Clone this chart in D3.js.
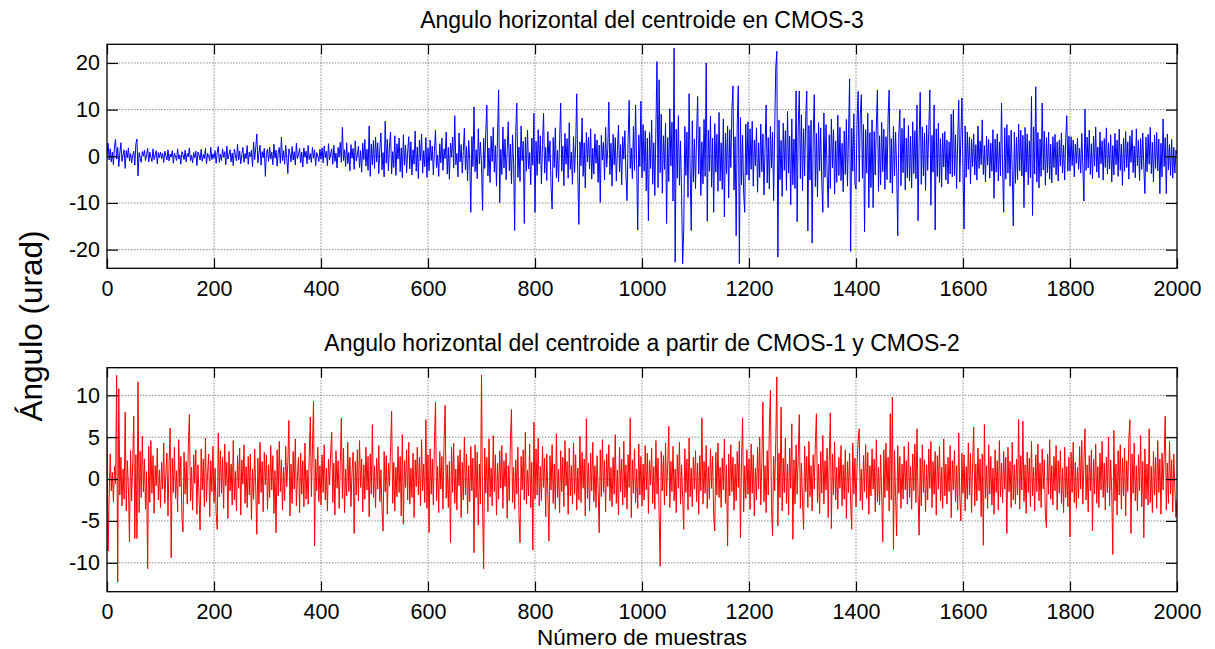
<!DOCTYPE html>
<html><head><meta charset="utf-8">
<script src="https://cdn.jsdelivr.net/npm/d3@7"></script>
<style>
body{margin:0;background:#fff}
svg{display:block}
text{font-family:"Liberation Sans",Arial,Helvetica,sans-serif;fill:#000}
</style>
</head><body>
<svg id="chart" width="1215" height="649"></svg>
<script>
// ---------------- data ----------------
const sampleStep = 2; // one stored value every 2 samples
const xTicks = [0,200,400,600,800,1000,1200,1400,1600,1800,2000];
const topYTicks = [-20,-10,0,10,20];
const botYTicks = [-10,-5,0,5,10];
const topTitle = "Angulo horizontal del centroide en CMOS-3";
const botTitle = "Angulo horizontal del centroide a partir de CMOS-1 y CMOS-2";
const xLabel = "Número de muestras";
const yLabel = "Ángulo (urad)";

const cmos3 = [
0.2,2.8,-0.8,1.6,-1.2,0.9,-1.8,2.1,3.6,-0.6, 1.9,-2.2,0.7,2.9,-1.1,0.3,1.4,-2.6,1.2,-0.3, 1.8,-1.0,0.6,-1.4,0.2,1.1,-1.9,2.7,3.7,-4.2, 0.8,-0.4,-1.3,1.0,0.1,1.3,-0.9,0.4,1.7,-1.2, 0.9,-0.2,-1.1,1.6,-0.7,0.3,1.2,-1.6,0.8,-0.3,
0.9,-0.5,0.6,-1.3,1.1,0.2,-0.8,1.4,-1.0,0.5, -0.2,1.2,-1.5,0.7,0.1,-0.9,1.6,-0.6,0.3,-1.7, 1.0,0.4,-0.7,1.3,-1.2,0.6,-0.1,1.8,-0.9,0.2, -1.4,0.8,-0.3,1.1,-2.0,0.9,0.3,-0.8,1.5,-1.1, 0.4,-0.5,1.7,-1.6,0.6,0.1,-1.0,1.9,-0.7,0.5,
-0.4,1.2,-1.5,0.8,2.1,-1.3,0.5,-0.9,1.6,-0.2, 1.0,-1.8,2.2,-0.6,0.3,1.4,-1.2,0.7,-2.0,1.5, 0.2,-1.0,2.6,-0.8,1.1,-1.6,0.4,1.9,-1.3,0.6, -0.5,2.3,-1.7,0.9,-0.1,1.3,-2.2,3.1,-0.7,1.8, 4.8,-1.4,0.6,2.4,-1.9,1.0,-0.3,1.7,-4.3,0.8,
1.5,-1.1,2.0,-0.6,0.9,-1.8,2.6,-0.4,1.3,-2.1, 0.7,1.9,-1.5,4.1,-0.9,1.2,-1.7,2.4,-0.3,-3.7, 1.6,0.5,-1.2,2.1,-0.8,1.0,-1.9,2.8,-0.5,0.4, 1.7,-1.4,0.9,-2.3,1.8,-0.2,1.1,-1.6,2.3,-0.7, 0.6,-1.3,1.9,-0.4,1.4,-2.0,0.8,0.2,-1.1,1.5,
-0.6,1.8,-1.4,2.2,-0.3,1.1,-2.0,2.7,-0.8,0.5, 1.6,-1.7,2.4,-1.1,0.7,-2.5,1.9,-0.2,3.0,-1.3, 6.2,-0.9,1.4,-2.2,2.9,-1.6,0.8,-3.1,2.5,-0.4, 1.7,-2.8,3.3,-1.0,0.3,2.2,-2.4,1.2,-3.4,2.8, -0.7,3.6,-2.1,1.5,-3.0,6.5,-4.3,2.6,-1.8,3.4,
-2.6,4.1,-1.2,2.9,-3.7,1.6,5.0,-2.9,0.8,-4.4, 7.5,-1.5,3.6,-3.1,2.2,5.2,-3.8,1.0,-2.4,4.4, -4.1,2.7,-0.6,3.9,-3.3,1.8,-4.6,4.6,-1.9,2.4, -3.5,0.9,4.2,-2.7,3.1,-4.0,1.4,-1.7,5.4,-3.2, 2.0,-4.8,3.5,-0.9,4.8,-3.6,1.2,-2.2,4.0,-4.5,
1.8,-3.1,3.5,-0.9,2.2,-4.0,1.1,5.6,-2.4,0.3, -4.3,2.7,-1.4,3.9,-3.0,1.6,-0.5,5.2,-3.8,1.9, -4.9,2.8,-0.2,4.1,-2.5,8.7,-1.8,0.6,-4.4,5.0, -1.2,2.5,-3.6,1.0,6.0,-2.9,2.1,-5.2,3.4,-0.8, -12.0,4.2,-2.2,10.6,-3.3,1.4,-4.8,5.9,-1.6,3.0,
-2.0,-11.6,3.9,-2.6,5.1,11.0,-4.2,1.8,-5.6,4.3, -1.1,6.2,-3.4,2.3,-6.4,4.8,14.2,-9.9,1.5,-3.9, 6.3,-2.5,3.7,-5.0,1.2,7.4,-3.1,2.6,-5.9,4.6, -1.4,-15.9,5.3,11.4,-4.5,2.0,-5.4,6.5,-0.9,3.2, -14.4,4.1,-3.2,5.6,-2.7,0.8,-6.1,3.9,-1.9,9.2,
-12.0,3.2,-4.1,5.7,-1.6,4.4,-5.9,2.5,9.2,-3.6, 1.9,-5.2,5.3,-1.1,3.3,-6.6,-11.3,4.0,-2.4,6.1, -4.6,1.3,-5.5,3.6,11.4,-3.2,2.2,-6.3,4.9,-1.7, 3.8,-4.7,7.2,-2.8,0.9,-6.0,4.2,-3.5,2.4,13.4, -3.9,-14.6,3.1,-2.0,8.2,-4.3,2.9,-6.8,5.1,-1.2,
4.1,-2.7,5.9,-4.9,1.7,-3.8,4.8,-1.5,3.5,-5.6, 2.4,-9.9,4.5,-0.8,3.0,-5.1,6.2,-2.3,1.4,11.6, -3.9,2.8,-6.4,4.7,-1.8,4.0,-5.3,1.2,6.7,-3.3, 2.5,-6.1,4.2,-0.6,5.5,-4.0,-9.5,3.2,12.0,-2.6, 1.8,-4.8,6.4,-3.0,11.0,-1.5,-15.8,4.6,-2.2,11.8,
-4.6,6.8,-3.2,5.5,-7.4,3.9,-13.8,5.1,-2.6,7.8, -6.0,2.9,-8.4,6.1,20.3,-6.7,16.4,-3.5,9.0,-7.9, 4.4,-2.8,7.1,-14.4,4.0,-5.4,10.2,-2.1,7.3,-9.6, 23.2,-22.7,5.8,-4.7,8.7,-6.2,3.3,-8.0,-23.0,-15.9, 6.4,-4.1,5.2,-8.8,13.4,-2.9,-15.9,7.6,-5.5,3.7,
-6.9,4.5,12.8,-3.8,6.3,-8.4,3.1,-5.9,7.9,-4.3, 20.0,-13.9,5.6,-3.2,8.6,-6.6,3.9,-12.0,7.0,-3.4, 4.7,-7.5,9.4,-5.3,2.9,-7.1,8.0,-13.0,5.0,-3.7, 6.5,-8.9,5.7,-2.4,9.7,15.1,-7.2,4.2,-17.0,6.8, 15.1,-23.0,8.3,-6.1,4.5,-7.8,-12.0,6.9,-4.0,7.4,
-5.1,5.9,-2.8,7.5,-6.4,3.5,-2.0,6.1,-7.7,2.9, -4.5,6.9,-3.3,4.8,-8.3,2.1,11.0,-5.7,4.0,-7.0, 6.4,-2.5,5.2,-9.5,5.3,19.0,22.5,-21.6,7.8,-5.0, 3.4,-8.6,7.1,-3.0,5.5,-7.3,9.6,-3.6,4.3,-10.4, 8.0,-6.1,3.7,-6.9,14.0,-14.0,6.3,14.0,-4.8,8.9,
-7.4,5.9,-4.2,8.5,14.0,-16.0,6.6,-5.1,7.7,-18.6, 4.1,13.2,-6.5,4.9,-8.7,7.2,-3.1,6.1,-5.4,-12.0, 9.3,-4.5,6.8,-3.7,-11.0,4.6,-6.9,8.0,-2.5,5.7, -8.1,3.3,-5.6,8.8,-4.1,6.2,-5.2,2.8,-7.6,5.4, -3.9,7.9,-6.4,4.7,16.6,-20.4,6.0,-3.2,9.1,-5.9,
-7.0,7.6,13.9,-5.5,8.9,13.2,-4.7,6.8,-16.2,5.7, -3.6,9.2,-11.0,5.1,-6.7,7.8,-11.0,5.3,-4.0,6.5, 14.2,-7.5,4.4,-6.1,7.3,-3.3,5.8,-7.1,4.2,-5.0, 8.4,14.2,-5.7,3.8,-7.9,6.4,-4.2,5.2,-2.7,-17.0, 4.8,10.0,-6.3,6.0,-3.5,8.2,-7.2,3.9,-4.6,6.6,
-5.3,4.3,-6.8,7.4,-3.7,5.5,-4.8,11.0,-13.8,3.4, 13.7,-6.0,6.3,-4.2,5.0,-7.3,6.7,-3.0,5.6,14.2, -10.5,4.5,-3.4,11.0,-15.8,5.9,-4.3,7.1,-5.6,3.8, -6.6,4.9,-2.3,5.3,-5.1,3.5,-5.9,3.1,-3.8,9.0, -4.4,10.0,-4.1,4.6,-6.9,2.8,12.0,-5.5,4.1,12.5,
-3.7,-15.6,6.5,-4.5,5.2,-2.8,4.1,-5.9,3.7,-2.2, 4.8,-4.0,2.5,-5.1,6.5,-2.6,3.3,-1.8,7.8,-3.9, 2.3,-5.5,4.3,-1.9,3.6,-4.7,2.8,-3.2,5.7,-9.0, 3.7,-3.4,4.8,-5.3,3.1,-4.2,11.4,-2.5,-12.0,6.1, -4.9,6.8,-3.6,4.5,-6.4,5.6,-3.0,-14.9,5.2,-5.8,
4.1,-5.0,6.9,-3.1,5.6,-4.2,4.5,-11.0,6.2,-3.4, 4.8,-6.1,3.3,-4.6,12.8,-12.7,6.3,-3.8,14.9,-5.5, 5.1,-6.8,3.7,-4.3,11.4,-2.9,5.4,-6.2,4.0,-3.5, 5.2,-4.9,2.6,-5.7,4.2,-2.4,4.7,-4.0,3.1,-5.3, 3.5,-2.1,5.0,-3.6,2.4,-5.1,3.9,8.7,-3.2,4.3,
-3.1,4.2,-2.0,3.5,-4.4,2.6,-1.5,3.9,-2.8,1.7, -3.6,4.9,-2.3,-9.6,10.1,-3.0,4.1,-2.5,5.6,-3.9, 2.7,-4.8,4.3,-2.1,6.3,-3.4,2.0,-4.6,5.2,-1.6, 3.3,-5.1,3.8,-2.4,6.1,-3.8,2.9,-2.7,4.6,-5.5, 2.3,-4.0,4.9,-1.8,3.5,-4.3,5.8,-3.0,2.6,-6.2,
3.9,-3.2,5.3,-2.4,3.1,-4.9,4.4,-1.3,5.6,-3.5, 2.2,-4.6,5.9,-2.0,3.4,-5.2,3.8,-2.8,5.0,-2.3, -8.0,4.1,-3.3,4.7,-1.7,6.2,-3.7,3.0,-5.5,4.5, -2.6,5.1,-3.1,3.7,-8.0,2.8,-4.4,8.0,-2.2,4.0, -8.0,4.8,-2.9,2.5,-4.1,3.6,-4.7,1.9,-3.6,1.3,
0.3
];

const cmos12 = [
5.0,-8.6,-2.1,3.0,-1.4,0.8,-2.7,1.5,-0.6,12.4, -12.3,10.8,-1.9,2.6,-3.2,1.2,-2.4,8.0,-3.8,2.2, -1.0,-7.5,3.4,-2.6,1.8,7.5,-7.1,2.9,-7.1,11.6, -4.0,3.3,-2.2,5.1,-1.5,2.4,-3.6,0.9,-10.7,3.9, -2.8,4.6,-1.7,2.8,-4.1,1.6,-0.8,3.7,-2.5,1.1,
-3.4,2.0,-1.2,4.3,-2.9,0.6,3.1,-4.4,1.9,6.1, -9.4,2.5,-1.6,3.8,-2.3,1.0,-3.9,4.7,-0.9,2.7, -4.6,-6.3,3.2,-1.8,2.1,-3.0,4.0,7.7,-2.6,1.4, -3.7,2.9,-0.5,3.5,-4.2,1.7,-2.0,-6.1,3.6,-1.3, 2.4,-3.3,4.9,-2.7,0.7,3.0,-4.5,2.2,-1.5,3.9,
-2.8,1.3,-4.0,-6.0,5.5,-2.1,3.4,-1.7,2.6,-3.5, 4.2,-0.8,2.0,-4.7,3.3,-1.4,1.8,-3.1,4.6,-2.5, 0.9,-3.8,2.8,-1.1,3.7,-4.3,2.3,-0.6,4.1,-2.9, 1.5,-3.4,2.7,-1.9,3.0,-4.8,1.2,-2.4,3.6,-1.0, -6.6,2.5,-3.0,4.4,-1.6,2.1,-3.9,3.2,-0.7,2.9,
-3.6,1.7,-2.2,4.0,-1.3,2.8,-4.1,1.0,-6.4,3.5, -2.0,4.5,-1.5,2.3,-3.7,1.4,-2.6,3.9,-0.9,2.0, 7.0,-4.4,1.8,-2.9,3.3,-1.2,4.8,-3.2,0.5,2.6, -4.0,3.1,-1.8,2.2,-3.3,4.3,-2.4,1.1,-3.0,2.7, 7.4,-2.1,3.6,9.3,-8.0,2.4,-1.4,3.8,-2.7,1.6,
-3.1,2.9,-1.6,4.1,-2.5,1.3,-3.8,2.4,-0.7,3.0, 5.6,-2.8,1.9,-4.3,3.4,-1.1,2.2,-3.5,1.5,7.3, -2.3,3.7,-4.0,1.2,-2.0,4.4,-1.5,2.6,-3.3,0.8, 3.2,-6.5,2.1,-1.9,3.5,-2.6,4.6,-1.0,2.4,-3.9, 1.7,-2.4,3.8,-1.3,2.7,-4.5,3.0,-1.8,6.5,-2.2,
1.6,-3.4,2.5,-1.2,4.0,-2.7,1.1,-3.6,-6.2,3.3, -1.5,2.8,-4.2,1.9,-0.8,3.6,8.1,-2.9,2.0,-3.8, 1.4,-2.1,3.9,-1.6,2.7,-4.4,5.3,-5.4,2.2,-1.0, 3.5,-2.5,4.4,-3.0,1.3,-2.2,3.1,-4.6,2.3,-0.9, 3.8,-1.9,2.6,-3.2,4.7,-1.4,1.8,-2.8,7.1,-3.5,
2.9,-6.4,3.6,-1.8,2.4,-3.1,4.2,9.2,-2.6,1.5, -4.0,3.3,-1.2,2.7,-3.6,4.5,8.8,-2.3,1.7,-3.4, 2.1,-7.6,3.8,-1.6,4.3,-2.9,1.2,-3.7,2.8,-0.8, 3.5,-4.6,2.0,-2.5,5.0,-1.9,3.0,-4.1,1.6,-2.7, 3.9,-1.4,2.5,-8.8,4.1,-2.2,3.2,-5.5,1.8,-3.0,
12.4,-3.3,-10.7,3.7,-1.7,2.6,-3.9,4.8,-2.1,1.3, -3.2,5.2,-1.5,2.9,-4.3,1.9,-2.4,3.4,-1.1,4.0, -3.5,2.2,-0.9,3.1,-4.7,1.6,-2.6,4.4,8.3,-2.8, 1.4,-3.6,2.3,-1.8,3.8,-4.1,-7.6,2.7,-1.3,3.5, -2.5,5.6,-3.0,1.1,-2.0,4.2,-3.4,2.0,-8.5,6.8,
-2.4,3.6,-1.9,4.9,-3.2,1.5,-2.6,3.9,-1.0,2.5, -4.5,3.0,-1.7,-7.4,2.8,-1.3,4.1,-2.9,1.8,-3.6, 5.4,-2.2,1.2,-4.0,3.4,-1.5,2.6,-3.3,4.6,-0.8, 2.1,-4.2,3.7,-2.0,1.6,-3.0,4.3,-1.8,2.9,-3.7, 1.3,-2.5,5.1,-2.8,3.2,-1.1,2.4,-4.4,7.2,-2.3,
1.9,-3.8,3.1,-1.4,4.4,-2.7,1.6,-3.4,2.8,-1.2, -6.4,3.5,-2.1,4.7,-1.6,2.2,-3.9,3.0,-0.9,4.1, -2.6,1.4,-3.3,2.6,-1.8,5.3,-2.9,1.1,-4.3,3.8, -1.5,2.4,-3.1,4.5,-2.2,1.7,-3.6,2.9,-1.0,7.3, -4.6,2.3,-1.7,3.6,-2.8,1.2,-3.5,4.2,-1.9,2.7,
-3.2,1.8,-2.5,4.0,-1.3,3.1,-4.1,2.2,-0.7,3.7, -2.9,1.5,-3.6,4.6,-1.8,2.5,-4.4,-10.4,3.3,-1.4, 2.8,-3.1,4.3,-2.0,1.6,6.3,-3.4,2.1,-1.5,3.9, -2.6,1.2,-4.0,2.9,-1.1,4.4,-3.0,1.7,-2.3,-6.0, 3.6,-1.6,2.4,-3.7,4.9,-2.1,1.3,-3.3,2.6,-1.2,
3.4,-2.7,1.9,-4.2,2.8,-1.4,7.3,-3.0,2.1,-1.7, 4.0,-3.5,1.5,-2.4,3.6,-1.1,2.7,-4.5,-6.2,3.2, -1.9,4.3,-2.2,1.4,-3.4,2.5,-1.3,4.8,-2.9,1.7, -8.0,3.0,-2.0,4.1,-1.5,2.6,-3.7,1.8,-2.6,3.3, -1.0,4.5,-7.0,2.2,7.3,-3.9,1.6,-2.3,3.5,-1.8,
2.4,-3.6,4.2,-1.7,2.9,-4.4,1.3,-2.5,3.8,-1.2, 5.0,-3.1,2.0,9.2,-2.7,1.6,-4.0,3.4,-1.9,6.1, 10.6,-3.3,-6.8,2.7,-1.4,4.6,12.2,-5.6,3.1,-2.2, 8.6,-3.8,2.5,-1.6,4.9,-2.9,1.8,-4.3,3.7,-1.1, 6.6,-7.2,2.3,-3.0,4.1,-1.8,2.6,7.7,-3.5,1.9,
-2.6,-6.0,3.9,-1.5,2.7,-3.4,4.5,-2.1,1.6,-3.8, 2.9,-1.2,4.2,7.8,-2.8,1.8,-4.1,3.3,-1.7,5.2, -3.0,2.2,-1.3,3.7,-4.6,2.4,7.9,-5.9,3.0,-1.9, 4.4,-2.5,1.4,-3.6,2.6,-1.1,4.0,-3.2,1.7,-2.4, 3.5,-4.7,2.1,-1.6,3.1,-2.9,-6.0,4.3,-1.8,2.5,
-3.3,1.9,4.6,6.0,-2.6,1.2,-3.7,2.8,-1.5,4.1, -2.3,3.2,-4.2,1.6,-2.0,3.6,-1.2,2.4,-3.9,4.7, -2.7,1.4,-3.1,2.9,-1.8,-7.5,3.5,-2.2,4.3,-1.4, 2.6,-3.8,7.8,-2.5,9.8,-8.4,3.4,-2.1,-6.8,4.0, -1.7,2.7,-3.5,1.8,-2.4,3.9,-1.3,2.2,-3.0,4.4,
-2.2,1.5,-3.6,3.0,-1.4,4.2,-2.8,6.0,-1.9,-6.7, 2.5,-3.2,4.1,-1.6,2.3,-3.9,1.7,-2.5,3.6,-1.1, 4.5,-3.4,2.1,-1.8,3.3,-4.3,2.8,-1.2,3.9,-2.6, 1.4,-3.5,4.8,-2.0,1.8,-3.0,2.6,-1.5,4.0,-4.6, 2.2,-1.3,3.4,-2.7,1.6,-3.7,5.5,-2.1,-5.0,3.1,
-1.7,2.9,-3.8,1.5,-2.4,4.3,-1.9,3.1,-4.0,2.0, 6.2,-3.2,1.8,-2.6,3.7,-1.4,2.4,-4.5,3.0,-7.9, 6.5,-2.3,1.6,-3.5,4.1,-1.8,2.7,-3.1,1.3,-4.2, 3.5,-1.6,2.2,-3.7,4.6,-2.1,1.9,-2.8,3.3,-1.2, 2.6,-6.5,3.8,-1.5,2.1,-3.4,4.4,-2.5,1.7,-3.0,
2.4,-1.9,7.1,-3.6,2.8,-1.3,6.9,-2.7,1.7,-4.1, 3.2,-1.6,2.5,-3.3,4.5,-2.0,1.4,-3.8,2.9,-1.5, 4.2,-2.6,1.9,-3.4,3.6,-1.2,2.3,-4.4,-5.8,3.0, -1.8,4.7,-2.4,1.6,-3.1,2.7,-1.4,4.0,-3.7,2.2, -1.7,3.4,-2.9,1.3,-4.0,3.8,-2.2,1.5,-3.3,2.6,
-6.9,3.2,-1.6,4.4,-2.8,2.0,-3.5,1.4,-2.3,3.9, -1.2,4.6,-3.0,2.1,6.0,-2.5,1.7,-3.9,2.8,-1.4, 3.5,-6.2,2.4,-1.8,4.2,-2.9,1.5,-3.4,3.1,-1.3, 4.5,-2.2,1.9,-3.7,2.6,-1.6,5.0,-3.2,2.3,-1.5, -9.0,5.8,-2.6,1.8,-4.3,3.4,-1.9,4.1,-3.6,2.5,
-2.0,3.7,-4.4,2.2,-1.5,4.8,7.1,-6.5,3.0,-1.7, 4.3,-2.6,1.6,-3.8,2.9,-1.4,5.2,-3.3,2.1,-7.0, 3.6,-2.4,1.8,-3.1,6.0,-2.8,1.5,-4.0,3.3,-1.9, 2.6,-3.5,4.6,-1.6,2.4,-4.2,3.1,-1.3,2.7,7.5, -3.7,1.9,-2.9,4.5,-1.8,2.3,-3.9,3.0,-1.2,-4.6,
-2.5
];

// ---------------- layout ----------------
const svg = d3.select("#chart");
const plotLeft = 107, plotRight = 1177;
const tickFmt = d => String(d); // plain hyphen-minus as in the original
const panels = [
  {title: topTitle, data: cmos3, color: "#0000ff", yTicks: topYTicks, domain: [-24, 24],
   top: 44.3, bottom: 268.3, titleY: 28},
  {title: botTitle, data: cmos12, color: "#ff0000", yTicks: botYTicks, domain: [-13.45, 13.3],
   top: 367.7, bottom: 591.7, titleY: 351}
];

panels.forEach((p, pi) => {
  const x = d3.scaleLinear().domain([0, 2000]).range([plotLeft, plotRight]);
  const y = d3.scaleLinear().domain(p.domain).range([p.bottom, p.top]);
  const g = svg.append("g");

  const clipId = "clip" + pi;
  svg.append("clipPath").attr("id", clipId).append("rect")
    .attr("x", plotLeft).attr("y", p.top).attr("width", plotRight - plotLeft).attr("height", p.bottom - p.top);

  // grid
  const grid = g.append("g").attr("stroke", "#8a8a8a").attr("stroke-width", 1).attr("stroke-dasharray", "1.5,1.5");
  grid.selectAll("line.v").data(xTicks.slice(1, -1)).join("line").attr("class", "v")
    .attr("x1", d => x(d)).attr("x2", d => x(d)).attr("y1", p.top).attr("y2", p.bottom);
  grid.selectAll("line.h").data(p.yTicks).join("line").attr("class", "h")
    .attr("x1", plotLeft).attr("x2", plotRight).attr("y1", d => y(d)).attr("y2", d => y(d));

  // series line
  const line = d3.line().x((d, i) => x(i * sampleStep)).y(d => y(d));
  g.append("path").datum(p.data).attr("clip-path", `url(#${clipId})`)
    .attr("fill", "none").attr("stroke", p.color).attr("stroke-width", 1)
    .attr("d", line);

  // axes (ticks inside, MATLAB style)
  const axB = g.append("g").attr("transform", `translate(0,${p.bottom})`)
    .call(d3.axisBottom(x).tickValues(xTicks).tickSizeInner(-10).tickSizeOuter(0).tickPadding(12.5).tickFormat(tickFmt));
  const axT = g.append("g").attr("transform", `translate(0,${p.top})`)
    .call(d3.axisTop(x).tickValues(xTicks).tickSizeInner(-10).tickSizeOuter(0).tickFormat(""));
  const axL = g.append("g").attr("transform", `translate(${plotLeft},0)`)
    .call(d3.axisLeft(y).tickValues(p.yTicks).tickSizeInner(-11).tickSizeOuter(0).tickPadding(7).tickFormat(tickFmt));
  const axR = g.append("g").attr("transform", `translate(${plotRight},0)`)
    .call(d3.axisRight(y).tickValues(p.yTicks).tickSizeInner(-11).tickSizeOuter(0).tickFormat(""));
  [axB, axT, axL, axR].forEach(a => {
    a.select(".domain").remove();
    a.selectAll(".tick line").attr("stroke", "#000").attr("stroke-width", 1.2);
    a.selectAll("text").attr("font-size", 21.5).attr("font-family", '"Liberation Sans", Arial, sans-serif').attr("fill", "#000");
  });

  // box
  g.append("rect").attr("x", plotLeft).attr("y", p.top)
    .attr("width", plotRight - plotLeft).attr("height", p.bottom - p.top)
    .attr("fill", "none").attr("stroke", "#000").attr("stroke-width", 1.3);

  // title
  svg.append("text").attr("x", (plotLeft + plotRight) / 2).attr("y", p.titleY)
    .attr("text-anchor", "middle").attr("font-size", 23).text(p.title);
});

// x label
svg.append("text").attr("x", 642).attr("y", 645).attr("text-anchor", "middle")
  .attr("font-size", 22.5).text(xLabel);
// y label
svg.append("text").attr("transform", "translate(42,326) rotate(-90)")
  .attr("text-anchor", "middle").attr("font-size", 31.5).text(yLabel);
</script>
</body></html>
